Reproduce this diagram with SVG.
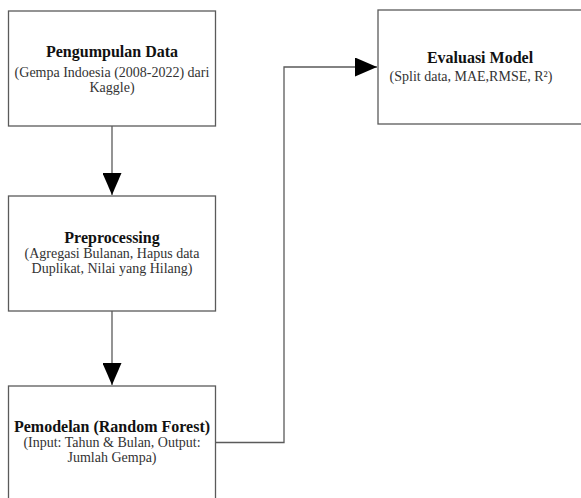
<svg xmlns="http://www.w3.org/2000/svg" width="581" height="498" viewBox="0 0 581 498">
  <style>
    .box { fill: #ffffff; stroke: #5a5a5a; stroke-width: 1.3; }
    .title { font-family: "Liberation Serif", "Times New Roman", serif; font-weight: bold; font-size: 16px; fill: #111111; text-anchor: middle; }
    .sub { font-family: "Liberation Serif", "Times New Roman", serif; font-size: 14px; fill: #333333; text-anchor: middle; }
    .link { fill: none; stroke: #5a5a5a; stroke-width: 1.3; }
  </style>
  <defs>
    <marker id="head" viewBox="0 0 22 19" refX="22" refY="9.5" markerWidth="22" markerHeight="19" markerUnits="userSpaceOnUse" orient="auto">
      <path d="M0,0 L22,9.5 L0,19 Z" fill="#000000"/>
    </marker>
  </defs>

  <rect width="581" height="498" fill="#ffffff"/>

  <g id="connectors">
    <path class="link" d="M112,126 V195" marker-end="url(#head)"/>
    <path class="link" d="M112,311 V385" marker-end="url(#head)"/>
    <path class="link" d="M215,442.5 H284 V67 H377" marker-end="url(#head)"/>
  </g>

  <g id="pengumpulan-data">
    <rect class="box" x="8.5" y="11" width="207" height="115"/>
    <text class="title" x="112" y="57">Pengumpulan Data</text>
    <text class="sub" x="112" y="77">(Gempa Indoesia (2008-2022) dari</text>
    <text class="sub" x="112" y="92">Kaggle)</text>
  </g>

  <g id="preprocessing">
    <rect class="box" x="8.5" y="196" width="207" height="115"/>
    <text class="title" x="112" y="243">Preprocessing</text>
    <text class="sub" x="112" y="258">(Agregasi Bulanan, Hapus data</text>
    <text class="sub" x="112" y="273">Duplikat, Nilai yang Hilang)</text>
  </g>

  <g id="pemodelan">
    <rect class="box" x="8.5" y="386" width="207" height="130"/>
    <text class="title" x="112" y="432">Pemodelan (Random Forest)</text>
    <text class="sub" x="112" y="447">(Input: Tahun &amp; Bulan, Output:</text>
    <text class="sub" x="112" y="462">Jumlah Gempa)</text>
  </g>

  <g id="evaluasi-model">
    <rect class="box" x="378" y="10" width="220" height="114"/>
    <text class="title" x="480" y="63">Evaluasi Model</text>
    <text class="sub" x="471" y="81">(Split data, MAE,RMSE, R²)</text>
  </g>
</svg>
